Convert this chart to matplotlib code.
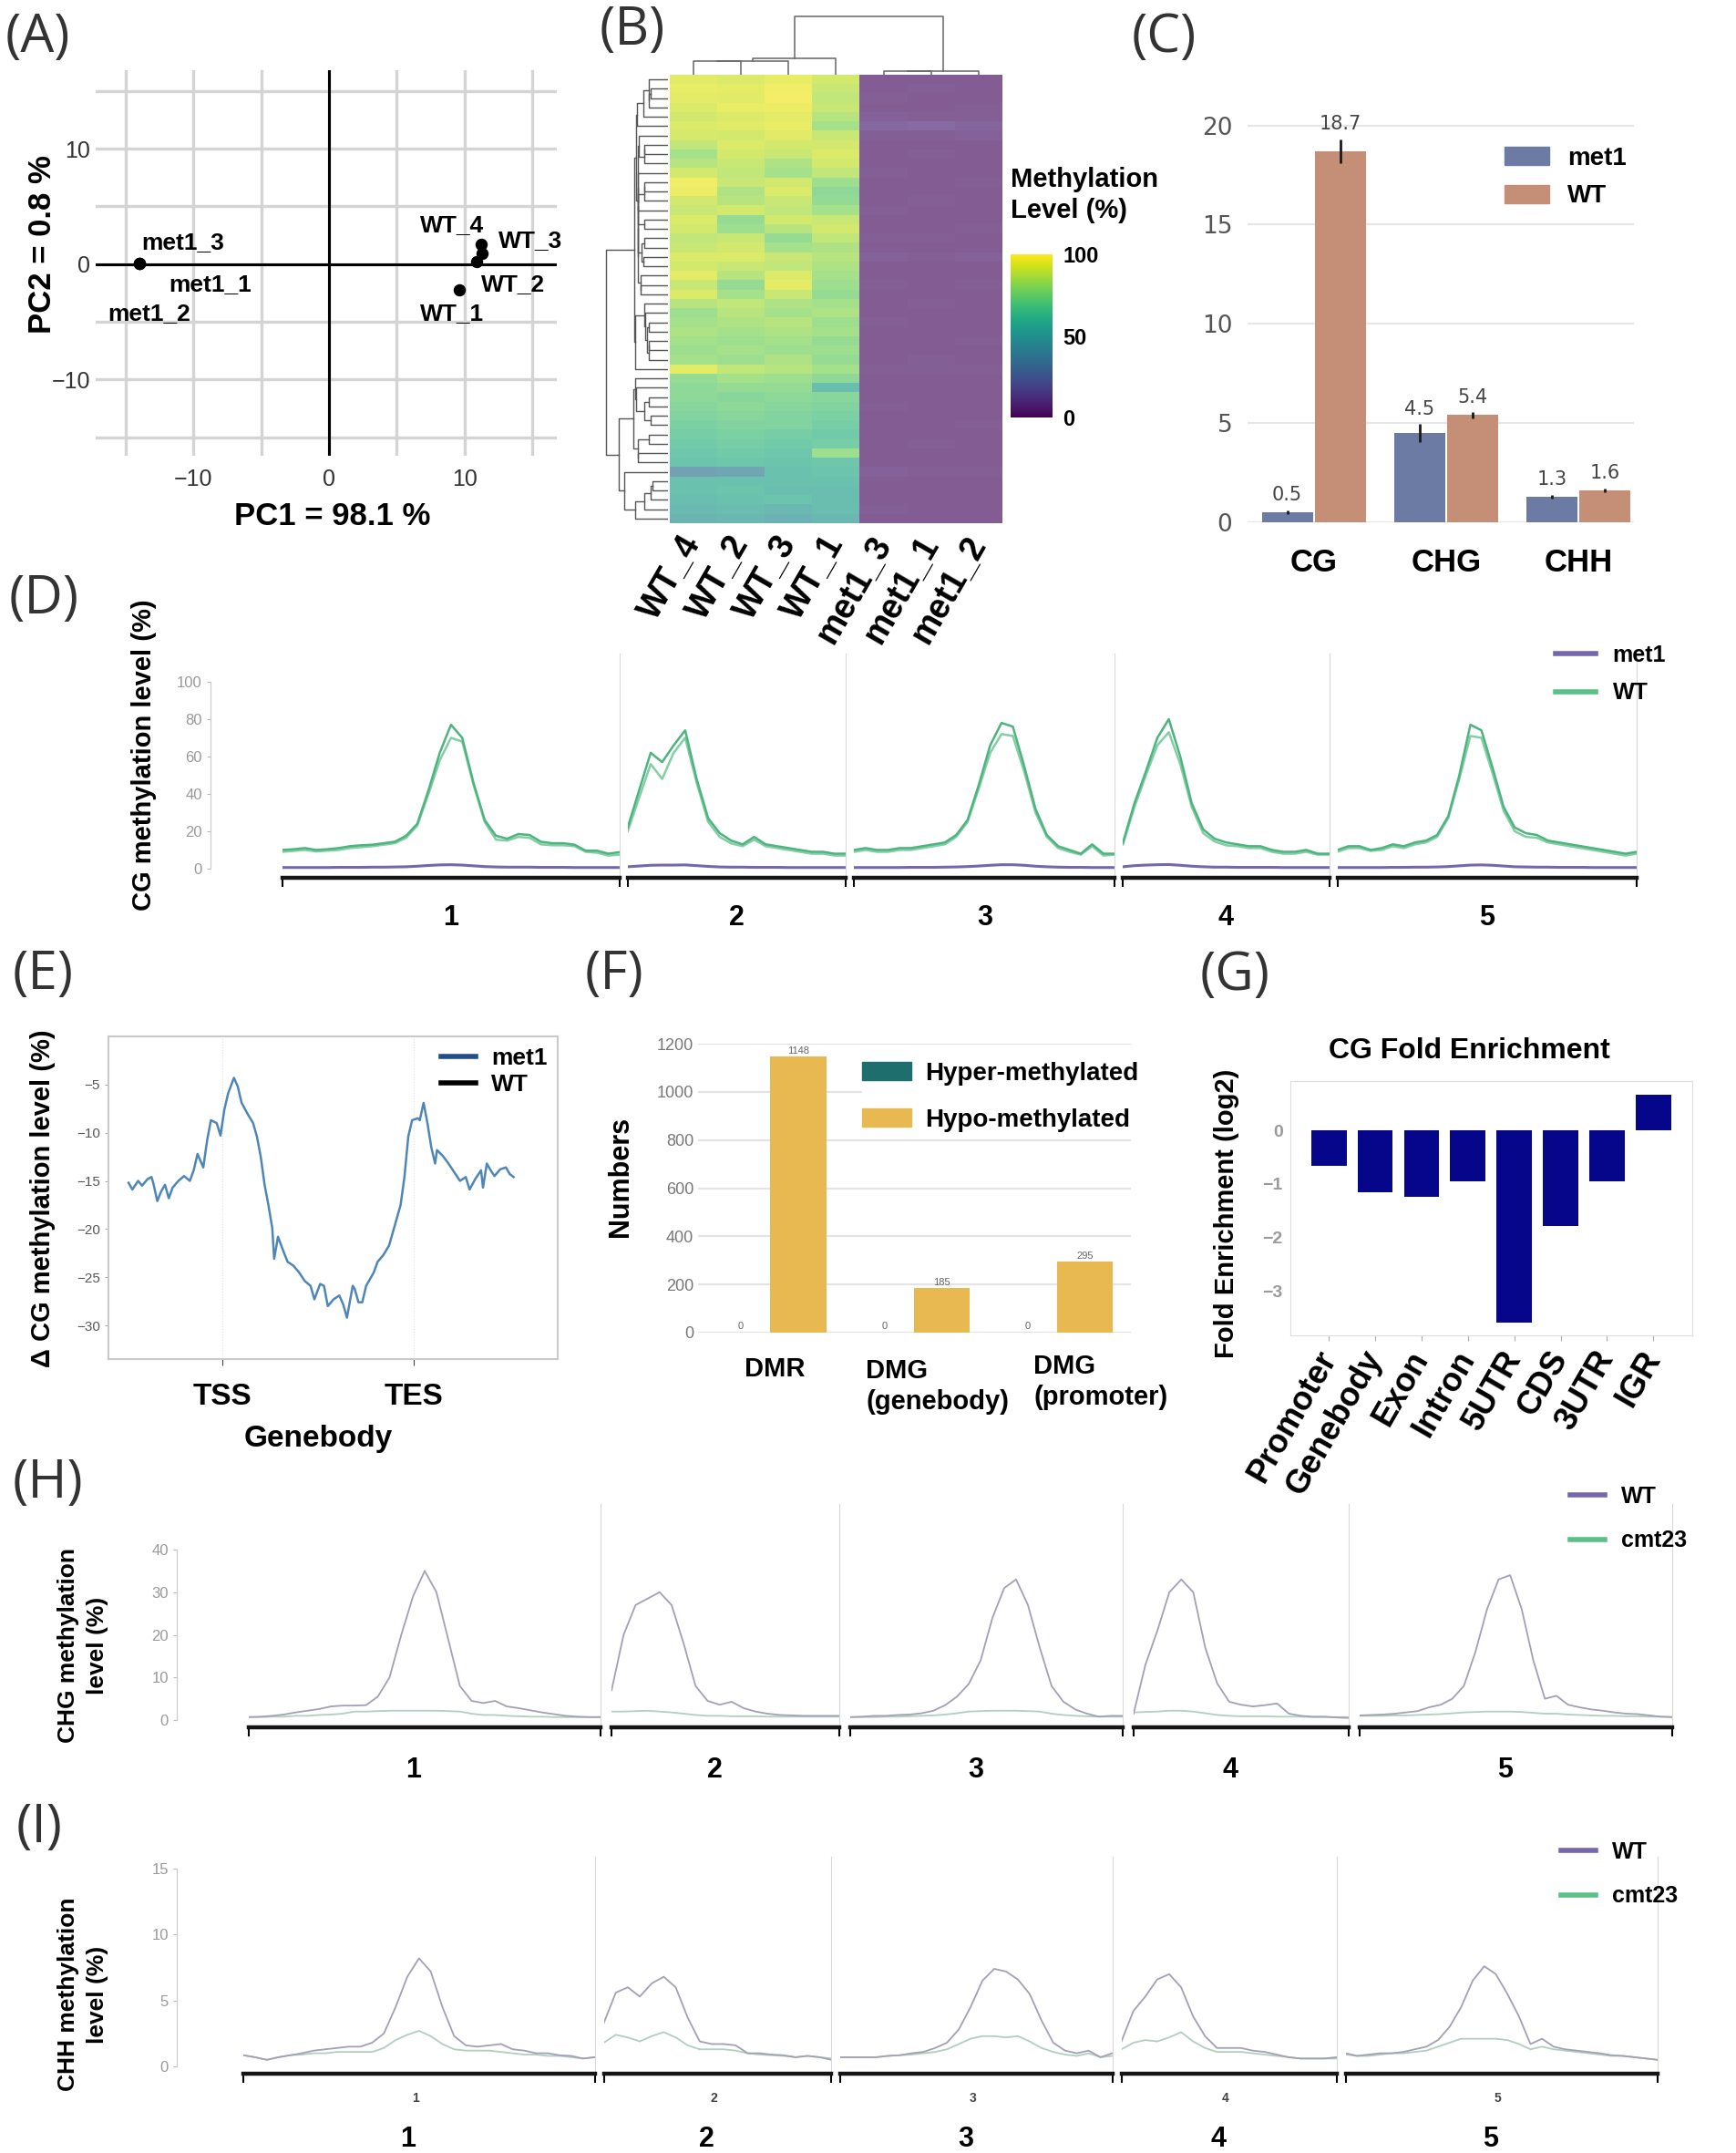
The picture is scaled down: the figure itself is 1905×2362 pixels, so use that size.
import numpy as np
import matplotlib
matplotlib.use("Agg")
import matplotlib.pyplot as plt
from matplotlib.lines import Line2D
from matplotlib.patches import Patch
from matplotlib.cm import ScalarMappable
from matplotlib.colors import Normalize

# ---------------- data ----------------
# (A) PCA
pca_samples = ["met1_1", "met1_2", "met1_3", "WT_1", "WT_2", "WT_3", "WT_4"]
pca_pc1 = [-14.0, -14.0, -14.0, 9.6, 10.9, 11.3, 11.2]
pca_pc2 = [0.1, 0.1, 0.1, -2.2, 0.25, 0.9, 1.7]

# (B) heatmap, rows = regions, columns as labelled
heat_cols = ["WT_4", "WT_2", "WT_3", "WT_1", "met1_3", "met1_1", "met1_2"]
heat_wt = [
    [93, 92, 95, 90], [95, 94, 97, 88], [94, 93, 98, 86], [92, 95, 96, 88],
    [90, 92, 94, 84], [92, 93, 95, 80], [91, 90, 93, 88], [86, 92, 90, 90],
    [80, 90, 88, 92], [84, 88, 82, 90], [90, 86, 80, 86], [97, 88, 90, 78],
    [96, 82, 92, 74], [90, 84, 88, 75], [88, 90, 86, 80], [92, 76, 90, 88],
    [90, 78, 84, 90], [86, 88, 76, 86], [88, 90, 80, 82], [92, 92, 88, 84],
    [90, 88, 86, 82], [94, 84, 92, 80], [88, 76, 94, 78], [92, 80, 88, 76],
    [84, 86, 82, 80], [78, 84, 80, 82], [80, 82, 84, 78], [82, 80, 82, 80],
    [80, 78, 80, 76], [78, 80, 78, 78], [80, 78, 82, 76], [94, 86, 84, 80],
    [76, 80, 78, 74], [74, 76, 76, 56], [74, 72, 74, 72], [72, 74, 72, 70],
    [70, 72, 70, 68], [68, 70, 70, 66], [66, 68, 66, 64], [64, 66, 64, 66],
    [62, 64, 62, 78], [60, 62, 60, 62], [38, 40, 58, 60], [58, 58, 58, 58],
    [58, 60, 56, 56], [56, 58, 60, 56], [54, 56, 52, 56], [50, 52, 48, 52],
]
heat_met1 = [
    [3, 3, 3], [3, 4, 3], [4, 3, 3], [3, 3, 4], [5, 4, 4], [8, 9, 7],
    [4, 4, 5], [3, 3, 3], [3, 4, 3], [3, 3, 3], [4, 3, 3], [3, 3, 4],
    [3, 3, 3], [3, 4, 3], [4, 3, 3], [3, 3, 3], [3, 3, 4], [4, 4, 3],
    [3, 3, 3], [5, 4, 5], [3, 3, 3], [3, 3, 3], [4, 3, 4], [3, 3, 3],
    [3, 4, 3], [3, 3, 3], [4, 3, 3], [3, 3, 3], [3, 3, 4], [3, 3, 3],
    [3, 4, 3], [4, 4, 4], [3, 3, 3], [3, 3, 3], [3, 3, 3], [4, 3, 3],
    [3, 3, 3], [3, 3, 4], [3, 3, 3], [3, 4, 3], [3, 3, 3], [3, 3, 3],
    [5, 4, 4], [3, 3, 3], [3, 3, 3], [3, 3, 3], [4, 3, 3], [3, 3, 3],
]

# (C) genome-wide methylation
contexts = ["CG", "CHG", "CHH"]
c_met1 = [0.5, 4.5, 1.3]
c_met1_err = [0.1, 0.45, 0.1]
c_wt = [18.7, 5.4, 1.6]
c_wt_err = [0.6, 0.15, 0.1]

# chromosomes (Mb)
chrom_names = ["1", "2", "3", "4", "5"]
chrom_len = [30.4, 19.7, 23.5, 18.6, 27.0]

# (D) CG methylation along chromosomes
d_wt_rep1 = [
    [10, 10.4, 11, 10, 10.4, 11, 12, 12.5, 12.8, 13.6, 14.4, 17.6, 24, 42, 62, 77, 70, 46, 26, 17.6, 16, 18.5, 18, 14.4, 13.6, 13.6, 12.8, 9.6, 9.6, 8, 8.8],
    [22, 42, 62, 57, 66, 74, 48, 27, 19, 15, 13, 17, 13, 12, 11, 10, 9, 9, 8, 8],
    [10, 11, 10, 10, 11, 11, 12, 13, 14, 18, 26, 45, 66, 78, 76, 55, 32, 18, 12, 10, 8, 13, 8, 8],
    [14, 35, 52, 70, 80, 60, 35, 21, 16, 14, 13, 12, 12, 10, 9, 9, 10, 8, 8],
    [10, 12, 12, 10, 11, 13, 12, 14, 15, 18, 28, 50, 77, 74, 54, 33, 22, 19, 18, 15, 14, 13, 12, 11, 10, 9, 8, 9],
]
d_wt_rep2 = [
    [9, 9.5, 10, 9.2, 9.6, 10, 11, 11.5, 12, 12.8, 13.6, 16.5, 23, 40, 58, 70, 68, 45, 25, 15.5, 15, 17, 16.5, 13, 12.5, 12.5, 12, 9, 8.5, 7, 7.5],
    [20, 38, 56, 48, 62, 70, 46, 25, 17, 13.5, 12, 15.5, 12, 11, 10, 9, 8, 8, 7, 7],
    [9, 10, 9, 9, 10, 10, 11, 12, 13, 17, 25, 43, 62, 72, 71, 52, 30, 17, 11, 9, 7.5, 12, 7, 7.5],
    [13, 33, 50, 66, 73, 56, 33, 19, 14.5, 12.5, 12, 11, 11, 9, 8, 8, 9, 7.5, 7.5],
    [9, 11, 11, 9.5, 10, 12, 11, 13, 14, 17, 27, 48, 71, 70, 51, 31, 20, 17, 16.5, 14, 13, 12, 11, 10, 9, 8, 7, 8],
]
d_met1 = [
    [0.6, 0.6, 0.6, 0.6, 0.6, 0.7, 0.7, 0.7, 0.8, 0.8, 0.9, 1.0, 1.3, 1.7, 2.0, 2.1, 1.9, 1.5, 1.1, 0.9, 0.8, 0.8, 0.8, 0.7, 0.7, 0.7, 0.6, 0.6, 0.6, 0.6, 0.6],
    [1.0, 1.4, 1.8, 1.9, 1.9, 2.0, 1.6, 1.2, 0.9, 0.8, 0.8, 0.7, 0.7, 0.7, 0.6, 0.6, 0.6, 0.6, 0.6, 0.6],
    [0.6, 0.6, 0.6, 0.6, 0.6, 0.7, 0.7, 0.7, 0.8, 0.9, 1.1, 1.4, 1.8, 2.1, 2.1, 1.8, 1.3, 1.0, 0.8, 0.7, 0.7, 0.6, 0.6, 0.6],
    [1.0, 1.6, 1.9, 2.1, 2.2, 1.8, 1.3, 1.0, 0.8, 0.8, 0.7, 0.7, 0.7, 0.7, 0.6, 0.6, 0.6, 0.6, 0.6],
    [0.6, 0.6, 0.6, 0.6, 0.6, 0.7, 0.7, 0.8, 0.8, 0.9, 1.1, 1.5, 1.9, 2.0, 1.8, 1.4, 1.0, 0.9, 0.8, 0.8, 0.7, 0.7, 0.7, 0.6, 0.6, 0.6, 0.6, 0.6],
]

# (E) delta CG methylation metagene (met1 - WT)
e_pos = [-0.49, -0.47, -0.44, -0.42, -0.39, -0.37, -0.36, -0.34, -0.32, -0.30, -0.28, -0.26,
         -0.23, -0.20, -0.17, -0.15, -0.13, -0.10, -0.08, -0.06, -0.03, -0.01, 0.01, 0.03,
         0.06, 0.08, 0.10, 0.13, 0.16, 0.18, 0.20, 0.22, 0.24, 0.26, 0.27, 0.29, 0.32, 0.34,
         0.37, 0.40, 0.43, 0.46, 0.48, 0.51, 0.53, 0.55, 0.58, 0.61, 0.63, 0.65, 0.68, 0.69,
         0.71, 0.73, 0.75, 0.77, 0.79, 0.81, 0.84, 0.87, 0.90, 0.93, 0.95, 0.97, 0.99, 1.02,
         1.03, 1.05, 1.07, 1.09, 1.11, 1.12, 1.15, 1.18, 1.21, 1.24, 1.27, 1.29, 1.32, 1.35,
         1.36, 1.38, 1.40, 1.42, 1.45, 1.48, 1.50, 1.52]
e_delta = [-15.2, -15.9, -15.0, -15.5, -14.8, -14.6, -15.3, -17.1, -16.1, -15.4, -16.8, -15.7,
           -15.0, -14.5, -15.0, -13.9, -12.2, -13.6, -10.8, -8.7, -9.0, -10.3, -7.6, -5.9,
           -4.3, -5.2, -6.9, -8.0, -9.0, -10.4, -12.5, -15.4, -17.5, -19.9, -23.1, -20.8, -22.4, -23.4,
           -23.8, -24.5, -25.4, -25.9, -27.3, -25.7, -25.9, -28.0, -27.3, -26.9, -27.8, -29.2, -25.9, -26.2,
           -27.6, -27.6, -25.9, -25.2, -24.5, -23.4, -22.7, -21.7, -19.6, -17.5, -14.6, -10.4, -8.7, -8.5,
           -8.7, -6.9, -9.0, -11.5, -13.2, -11.8, -12.4, -13.2, -14.1, -15.0, -14.6, -15.9, -14.8, -13.9,
           -15.7, -13.2, -13.9, -14.5, -13.8, -13.6, -14.3, -14.6]

# (F) DMR / DMG counts
f_groups = ["DMR", "DMG\n(genebody)", "DMG\n(promoter)"]
f_hyper = [0, 0, 0]
f_hypo = [1148, 185, 295]

# (G) CG fold enrichment
g_regions = ["Promoter", "Genebody", "Exon", "Intron", "5UTR", "CDS", "3UTR", "IGR"]
g_fold = [-0.66, -1.15, -1.24, -0.96, -3.6, -1.78, -0.96, 0.66]

# (H) CHG methylation along chromosomes
h_wt = [
    [0.7, 0.8, 1.0, 1.3, 1.8, 2.2, 2.6, 3.2, 3.4, 3.4, 3.5, 5.5, 10, 20, 29, 35, 30, 19, 8, 4.5, 4.0, 4.5, 3.2, 2.8, 2.3, 1.8, 1.4, 1.0, 0.8, 0.7, 0.7],
    [7, 20, 27, 28.5, 30, 27, 18, 8, 4.5, 3.6, 4.3, 2.8, 2.0, 1.5, 1.2, 1.1, 1.0, 1.0, 1.0, 1.0],
    [0.7, 0.8, 1.0, 1.0, 1.2, 1.3, 1.6, 2.2, 3.5, 5.5, 8.5, 14, 24, 31, 33, 27, 17, 8, 4.3, 2.5, 1.5, 0.8, 1.0, 1.0],
    [1.4, 13, 21, 30, 33, 30, 17, 8.6, 4.3, 3.6, 3.2, 3.5, 3.9, 1.5, 1.0, 0.8, 0.8, 0.6, 0.5],
    [1.1, 1.2, 1.3, 1.5, 1.8, 2.1, 3.0, 3.6, 5.0, 8.0, 16, 26, 33, 34, 26, 14, 5, 5.7, 3.6, 3.0, 2.5, 2.2, 1.8, 1.5, 1.4, 1.1, 0.8, 0.7],
]
h_cmt23 = [
    [0.7, 0.7, 0.8, 0.8, 1.0, 1.0, 1.2, 1.3, 1.5, 2.0, 2.0, 2.1, 2.2, 2.2, 2.2, 2.2, 2.2, 2.1, 2.0, 1.5, 1.2, 1.2, 1.0, 0.9, 0.8, 0.8, 0.7, 0.7, 0.7, 0.7, 0.7],
    [2.0, 2.0, 2.1, 2.2, 2.0, 1.8, 1.5, 1.2, 1.0, 1.0, 0.9, 0.9, 0.9, 0.8, 0.8, 0.8, 0.8, 0.8, 0.8, 0.8],
    [0.7, 0.7, 0.7, 0.8, 0.8, 0.9, 1.0, 1.1, 1.3, 1.6, 2.0, 2.1, 2.2, 2.2, 2.2, 2.1, 2.0, 1.5, 1.2, 1.0, 0.9, 0.8, 0.8, 0.8],
    [1.8, 1.9, 2.0, 2.2, 2.2, 2.0, 1.6, 1.2, 1.0, 0.9, 0.9, 0.9, 0.8, 0.8, 0.8, 0.7, 0.7, 0.7, 0.7],
    [1.0, 1.0, 1.0, 1.1, 1.1, 1.2, 1.3, 1.4, 1.6, 1.8, 1.9, 2.0, 2.0, 2.0, 1.9, 1.7, 1.5, 1.5, 1.3, 1.2, 1.1, 1.0, 1.0, 0.9, 0.9, 0.8, 0.8, 0.7],
]

# (I) CHH methylation along chromosomes
i_wt = [
    [0.85, 0.7, 0.5, 0.7, 0.85, 1.0, 1.2, 1.3, 1.4, 1.5, 1.5, 1.8, 2.5, 4.5, 6.8, 8.2, 7.2, 4.5, 2.3, 1.6, 1.5, 1.6, 1.7, 1.3, 1.2, 1.0, 1.0, 0.85, 0.8, 0.6, 0.7],
    [3.3, 5.6, 6.0, 5.3, 6.3, 6.8, 6.0, 3.7, 1.9, 1.7, 1.7, 1.6, 1.0, 1.0, 0.9, 0.85, 0.7, 0.8, 0.7, 0.5],
    [0.7, 0.7, 0.7, 0.7, 0.8, 0.85, 1.0, 1.1, 1.4, 1.8, 2.8, 4.5, 6.5, 7.4, 7.2, 6.6, 5.5, 3.5, 1.8, 1.2, 1.0, 1.2, 0.7, 1.0],
    [1.9, 4.2, 5.3, 6.6, 7.0, 6.0, 3.8, 2.3, 1.4, 1.4, 1.4, 1.2, 1.1, 0.9, 0.7, 0.6, 0.6, 0.6, 0.7],
    [1.0, 0.8, 0.9, 1.0, 1.0, 1.1, 1.3, 1.5, 2.0, 3.0, 4.5, 6.5, 7.6, 7.0, 5.5, 3.8, 1.7, 2.1, 1.5, 1.3, 1.2, 1.1, 1.0, 0.85, 0.8, 0.7, 0.6, 0.5],
]
i_cmt23 = [
    [0.85, 0.7, 0.5, 0.7, 0.85, 0.9, 1.0, 1.0, 1.1, 1.1, 1.1, 1.1, 1.4, 2.0, 2.4, 2.7, 2.3, 1.7, 1.3, 1.2, 1.2, 1.2, 1.1, 1.0, 0.9, 0.9, 0.8, 0.8, 0.7, 0.6, 0.7],
    [1.8, 2.4, 2.2, 1.9, 2.3, 2.6, 2.2, 1.6, 1.3, 1.3, 1.3, 1.2, 1.0, 0.9, 0.85, 0.8, 0.7, 0.8, 0.7, 0.6],
    [0.7, 0.7, 0.7, 0.7, 0.8, 0.85, 0.9, 1.0, 1.1, 1.3, 1.7, 2.1, 2.3, 2.3, 2.2, 2.3, 1.9, 1.4, 1.1, 0.9, 0.8, 1.0, 0.7, 0.8],
    [1.3, 1.8, 2.0, 1.9, 2.2, 2.6, 1.9, 1.4, 1.1, 1.1, 1.1, 1.0, 0.9, 0.8, 0.7, 0.6, 0.6, 0.6, 0.6],
    [0.9, 0.8, 0.8, 0.9, 1.0, 1.0, 1.1, 1.2, 1.5, 1.8, 2.1, 2.1, 2.1, 2.1, 2.0, 1.7, 1.3, 1.5, 1.3, 1.2, 1.1, 1.0, 0.9, 0.8, 0.8, 0.7, 0.6, 0.5],
]

# ---------------- layout helpers ----------------
W, H = 1905, 2362
plt.rcParams["font.family"] = ["Liberation Sans", "DejaVu Sans"]
fig = plt.figure(figsize=(W / 100, H / 100), dpi=100)

BOLD = dict(weight="bold", color="black")
PURPLE = "#7566ad"
GREEN = "#5cbf87"


def px_axes(x0, y0, x1, y1):
    return fig.add_axes([x0 / W, 1 - y1 / H, (x1 - x0) / W, (y1 - y0) / H])


def px_text(x, y, s, **kw):
    return fig.text(x / W, 1 - y / H, s, **kw)


def panel_label(x, y, s):
    px_text(x, y, s, family=["Open Sans", "DejaVu Sans"], fontsize=42,
            color="#333333", ha="left", va="top")


def px_legend(ax, handles, labels, x, y_first, spacing, fs, hl=1.6, htp=0.7, **kw):
    fpx = fs * 100 / 72
    ls = max(spacing - 0.95 * fpx, 0) / fpx
    opts = dict(frameon=False)
    opts.update(kw)
    return ax.legend(handles, labels, loc="upper left",
                     bbox_to_anchor=(x / W, 1 - (y_first - 0.4 * fpx) / H),
                     bbox_transform=fig.transFigure, borderpad=0, borderaxespad=0,
                     labelspacing=ls, handlelength=hl, handletextpad=htp,
                     prop=dict(weight="bold", size=fs), **opts)


def adjacent_linkage(X):
    # order-preserving agglomerative clustering (merge closest neighbours)
    X = np.asarray(X, float)
    nodes = [(float(i), 0.0, X[i], 1) for i in range(len(X))]
    links = []
    while len(nodes) > 1:
        d = [np.abs(nodes[i][2] - nodes[i + 1][2]).mean() for i in range(len(nodes) - 1)]
        i = int(np.argmin(d))
        (pa, ha, ma, na), (pb, hb, mb, nb) = nodes[i], nodes[i + 1]
        h = max(d[i], ha, hb)
        links.append((pa, ha, pb, hb, h))
        nodes[i:i + 2] = [((pa + pb) / 2, h, (ma * na + mb * nb) / (na + nb), na + nb)]
    return links


def chrom_row(x0, x1, y0, y1, gap, ylim, series, yticks, spine_x):
    scale = (x1 - x0 - gap * (len(chrom_len) - 1)) / sum(chrom_len)
    centers, axes = [], []
    left = x0
    for k, L in enumerate(chrom_len):
        w = L * scale
        ax = px_axes(left, y0, left + w, y1)
        ax.patch.set_alpha(0)
        for vals, color, lw in series:
            v = vals[k]
            ax.plot(np.linspace(0, L, len(v)), v, color=color, lw=lw)
        ax.set_xlim(0, L)
        ax.set_ylim(*ylim)
        ax.spines["top"].set_visible(False)
        ax.spines["right"].set_color("#d8d8d8")
        ax.spines["right"].set_linewidth(0.8)
        ax.spines["bottom"].set_linewidth(3.2)
        ax.spines["bottom"].set_color("#151515")
        ax.set_xticks([0, L])
        ax.tick_params(axis="x", direction="out", length=7, width=1.5, labelbottom=False)
        if k == 0:
            ax.spines["left"].set_position(("outward", (left - spine_x) * 0.72))
            ax.spines["left"].set_bounds(yticks[0], yticks[-1])
            ax.spines["left"].set_color("#c8c8c8")
            ax.set_yticks(yticks)
            ax.set_yticklabels([str(t) for t in yticks])
            ax.tick_params(axis="y", length=3, color="#bbbbbb", labelsize=12, labelcolor="#999999")
        else:
            ax.spines["left"].set_visible(False)
            ax.tick_params(axis="y", left=False, labelleft=False)
        centers.append(left + w / 2)
        axes.append(ax)
        left += w + gap
    return centers, axes


# ---------------- (A) PCA ----------------
ax = px_axes(105, 77, 611, 500)
ax.set_xlim(-17.2, 16.8)
ax.set_ylim(-16.6, 16.8)
ax.set_xticks([-10, 0, 10])
ax.set_yticks([-10, 0, 10])
ax.set_xticks([-15, -5, 5, 15], minor=True)
ax.set_yticks([-15, -5, 5, 15], minor=True)
ax.grid(True, which="both", color="#d4d4d4", lw=2.4)
ax.set_axisbelow(True)
for s in ax.spines.values():
    s.set_visible(False)
ax.tick_params(which="both", length=0, labelsize=18, labelcolor="#333333")
ax.tick_params(axis="x", pad=10)
ax.tick_params(axis="y", pad=4)
ax.axhline(0, color="black", lw=2.2, zorder=2)
ax.axvline(0, color="black", lw=2.2, zorder=2)
ax.scatter(pca_pc1, pca_pc2, s=75, color="black", zorder=3)
pca_label_xy = {"met1_3": (-13.8, 1.9), "met1_1": (-11.8, -1.75), "met1_2": (-16.3, -4.3),
                "WT_4": (6.7, 3.4), "WT_3": (12.5, 2.0), "WT_2": (11.2, -1.75), "WT_1": (6.7, -4.3)}
for name in pca_samples:
    lx, ly = pca_label_xy[name]
    ax.text(lx, ly, name, fontsize=19, ha="left", va="center", **BOLD)
px_text(365, 566, "PC1 = 98.1 %", fontsize=25, ha="center", va="center", **BOLD)
px_text(47, 268, "PC2 = 0.8 %", fontsize=25, ha="center", va="center", rotation=90, **BOLD)
panel_label(6, 12, "(A)")

# ---------------- (B) heatmap ----------------
heat = np.hstack([np.array(heat_wt, float), np.array(heat_met1, float)])
nrow, ncol = heat.shape
ax_h = px_axes(735, 82, 1100, 574)
ax_h.imshow(heat, aspect="auto", cmap="viridis", vmin=0, vmax=100, alpha=0.67,
            interpolation="nearest")
for s in ax_h.spines.values():
    s.set_visible(False)
ax_h.set_yticks([])
ax_h.set_xticks(range(ncol))
ax_h.set_xticklabels(heat_cols, rotation=60, ha="right", va="center",
                     rotation_mode="anchor", fontsize=27, fontweight="bold")
ax_h.tick_params(axis="x", length=0, pad=12)

# column dendrogram
ax_cd = px_axes(735, 15, 1100, 82)
for pa, ha, pb, hb, h in adjacent_linkage(heat.T):
    ax_cd.plot([pa, pa, pb, pb], np.sqrt([ha, h, h, hb]), color="#666666", lw=1.1)
ax_cd.set_xlim(-0.5, ncol - 0.5)
ax_cd.set_ylim(0, None)
ax_cd.axis("off")

# row dendrogram
ax_rd = px_axes(662, 82, 733, 574)
for pa, ha, pb, hb, h in adjacent_linkage(heat):
    ax_rd.plot(np.sqrt([ha, h, h, hb]), [pa, pa, pb, pb], color="#555555", lw=1.0)
ax_rd.set_ylim(nrow - 0.5, -0.5)
ax_rd.invert_xaxis()
ax_rd.set_xlim(left=None, right=0)
ax_rd.axis("off")

# colour bar
cax = px_axes(1109, 279, 1155, 458)
cb = fig.colorbar(ScalarMappable(norm=Normalize(0, 100), cmap="viridis"), cax=cax)
cb.outline.set_visible(False)
cb.set_ticks([0, 50, 100])
cb.ax.tick_params(length=0, pad=8)
for t in cb.ax.get_yticklabels():
    t.set_fontsize(17)
    t.set_fontweight("bold")
px_text(1109, 214, "Methylation\nLevel (%)", fontsize=21, ha="left", va="center",
        linespacing=1.25, **BOLD)
panel_label(658, 4, "(B)")

# ---------------- (C) bars ----------------
ax = px_axes(1369, 131, 1793, 573)
x = np.arange(len(contexts))
bw = 0.385
col_met1, col_wt = "#6b7ba3", "#c48e77"
ax.bar(x - 0.2, c_met1, width=bw, color=col_met1, zorder=2)
ax.bar(x + 0.2, c_wt, width=bw, color=col_wt, zorder=2)
ax.errorbar(x - 0.2, c_met1, yerr=c_met1_err, fmt="none", ecolor="#1a1a1a", elinewidth=2, zorder=3)
ax.errorbar(x + 0.2, c_wt, yerr=c_wt_err, fmt="none", ecolor="#1a1a1a", elinewidth=2, zorder=3)
for xs, vals, errs in ((x - 0.2, c_met1, c_met1_err), (x + 0.2, c_wt, c_wt_err)):
    for xi, v, e in zip(xs, vals, errs):
        ax.text(xi, v + e + 0.3, f"{v:.1f}", ha="center", va="bottom",
                family="DejaVu Sans", fontsize=15, color="#444444")
ax.set_xlim(-0.5, 2.42)
ax.set_ylim(0, 20.3)
ax.set_yticks([0, 5, 10, 15, 20])
ax.yaxis.grid(True, color="#e6e6e6", lw=1.5)
ax.set_axisbelow(True)
for s in ax.spines.values():
    s.set_visible(False)
ax.set_xticks(x)
ax.set_xticklabels(contexts, fontsize=25, fontweight="bold")
ax.tick_params(axis="x", length=0, pad=20)
ax.tick_params(axis="y", length=0, pad=12, labelsize=19, labelcolor="#555555")
for t in ax.get_yticklabels():
    t.set_family("DejaVu Sans")
px_legend(ax, [Patch(color=col_met1), Patch(color=col_wt)], ["met1", "WT"],
          1651, 172, 42, 20, hl=1.75, htp=0.75)
panel_label(1242, 12, "(C)")

# ---------------- (D) CG along chromosomes ----------------
centers, d_axes = chrom_row(310, 1796, 717, 963, 9, (-4.9, 115.1),
                            [(d_wt_rep2, "#82cfa3", 1.8), (d_wt_rep1, "#4fb37f", 1.8),
                             (d_met1, PURPLE, 2.2)],
                            [0, 20, 40, 60, 80, 100], 231)
for cx, name in zip(centers, chrom_names):
    px_text(cx, 1007, name, fontsize=22, ha="center", va="center", **BOLD)
px_text(158, 828, "CG methylation level (%)", fontsize=21, rotation=90,
        ha="center", va="center", **BOLD)
px_legend(d_axes[-1], [Line2D([], [], color=PURPLE, lw=4), Line2D([], [], color=GREEN, lw=4)],
          ["met1", "WT"], 1707, 717, 41, 18, hl=1.75, htp=0.75)
panel_label(10, 628, "(D)")

# ---------------- (E) metagene delta ----------------
ax = px_axes(119, 1137, 612, 1491)
ax.plot(e_pos, e_delta, color="#4f86b8", lw=1.8)
ax.set_xlim(-0.595, 1.75)
ax.set_ylim(-33.5, 0)
ax.set_yticks([-30, -25, -20, -15, -10, -5])
ax.set_xticks([0, 1])
ax.set_xticklabels(["TSS", "TES"], fontsize=24, fontweight="bold")
ax.tick_params(axis="x", length=5, color="#444444", pad=14)
ax.tick_params(axis="y", length=3, color="#aaaaaa", labelsize=11, labelcolor="#555555")
for v in (0, 1):
    ax.axvline(v, color="#e2e2e2", lw=0.8, ls=":", zorder=0)
for s in ax.spines.values():
    s.set_color("#c9c9c9")
    s.set_linewidth(1.5)
px_legend(ax, [Line2D([], [], color="#1f4e8a", lw=4), Line2D([], [], color="black", lw=4)],
          ["met1", "WT"], 484, 1160, 30, 19, hl=1.45, htp=0.65)
px_text(349, 1578, "Genebody", fontsize=24, ha="center", va="center", **BOLD)
px_text(47, 1315, "\u0394 CG methylation level (%)", fontsize=21, rotation=90,
        ha="center", va="center", **BOLD)
panel_label(14, 1040, "(E)")

# ---------------- (F) DMR / DMG ----------------
ax = px_axes(766, 1145, 1241, 1462)
xf = np.arange(len(f_groups))
col_hyper, col_hypo = "#1d6e6c", "#e8b851"
ax.bar(xf - 0.2, f_hyper, width=0.39, color=col_hyper, zorder=2)
ax.bar(xf + 0.2, f_hypo, width=0.39, color=col_hypo, zorder=2)
for xi, v in zip(xf - 0.2, f_hyper):
    ax.text(xi, v + 8, str(v), ha="center", va="bottom", fontsize=8, color="#666666")
for xi, v in zip(xf + 0.2, f_hypo):
    ax.text(xi, v + 4, str(v), ha="center", va="bottom", fontsize=8, color="#666666")
ax.set_xlim(-0.5, 2.52)
ax.set_ylim(0, 1200)
ax.set_yticks(range(0, 1201, 200))
ax.yaxis.grid(True, color="#e3e3e3", lw=1.5)
ax.set_axisbelow(True)
for s in ax.spines.values():
    s.set_visible(False)
ax.set_xticks([])
ax.tick_params(axis="y", length=0, labelsize=13, labelcolor="#777777")
px_legend(ax, [Patch(color=col_hyper), Patch(color=col_hypo)],
          ["Hyper-methylated", "Hypo-methylated"], 946, 1176, 51, 20,
          hl=1.95, htp=0.55, frameon=True, facecolor="white", edgecolor="white", framealpha=1)
px_text(850, 1502, f_groups[0], fontsize=21, ha="center", va="center", **BOLD)
px_text(950, 1521, f_groups[1], fontsize=21, ha="left", va="center", linespacing=1.3, **BOLD)
px_text(1134, 1516, f_groups[2], fontsize=21, ha="left", va="center", linespacing=1.3, **BOLD)
px_text(681, 1291, "Numbers", fontsize=22, rotation=90, ha="center", va="center", **BOLD)
panel_label(642, 1040, "(F)")

# ---------------- (G) fold enrichment ----------------
ax = px_axes(1416, 1186, 1857, 1465)
xg = np.arange(len(g_regions))
ax.bar(xg, g_fold, width=0.76, color="#06068a", zorder=2)
ax.set_xlim(-0.83, 7.84)
ax.set_ylim(-3.83, 0.92)
ax.set_yticks([-3, -2, -1, 0])
ax.set_yticklabels(["\u22123", "\u22122", "\u22121", "0"])
ax.tick_params(axis="y", length=0, labelsize=14, labelcolor="#9a9a9a", pad=6)
for t in ax.get_yticklabels():
    t.set_fontweight("bold")
ax.set_xticks(xg)
ax.set_xticklabels(g_regions, rotation=60, ha="right", va="center", rotation_mode="anchor",
                   fontsize=26, fontweight="bold")
ax.tick_params(axis="x", length=4, color="#aaaaaa", pad=10)
for s in ax.spines.values():
    s.set_color("#dddddd")
px_text(1612, 1153, "CG Fold Enrichment", fontsize=23, ha="center", va="center", **BOLD)
px_text(1346, 1331, "Fold Enrichment (log2)", fontsize=21, rotation=90,
        ha="center", va="center", **BOLD)
panel_label(1317, 1042, "(G)")

# ---------------- (H) CHG along chromosomes ----------------
centers, h_axes = chrom_row(273, 1835, 1650, 1895, 12, (-1.7, 50.7),
                            [(h_cmt23, "#b3cdbf", 1.3), (h_wt, "#a3a0b6", 1.3)],
                            [0, 10, 20, 30, 40], 194)
for cx, name in zip(centers, chrom_names):
    px_text(cx - 12, 1942, name, fontsize=22, ha="center", va="center", **BOLD)
px_text(91, 1805, "CHG methylation\nlevel (%)", fontsize=19, rotation=90,
        ha="center", va="center", linespacing=1.4, **BOLD)
px_legend(h_axes[-1], [Line2D([], [], color=PURPLE, lw=4), Line2D([], [], color=GREEN, lw=4)],
          ["WT", "cmt23"], 1723, 1640, 48, 18, hl=1.5, htp=0.75)
panel_label(14, 1598, "(H)")

# ---------------- (I) CHH along chromosomes ----------------
centers, i_axes = chrom_row(267, 1819, 2037, 2275, 10, (-0.55, 15.9),
                            [(i_cmt23, "#b3cdbf", 1.3), (i_wt, "#a3a0b6", 1.3)],
                            [0, 5, 10, 15], 194)
for cx, name in zip(centers, chrom_names):
    px_text(cx - 4, 2302, name, fontsize=10, ha="center", va="center", weight="bold", color="#444444")
    px_text(cx - 12, 2347, name, fontsize=22, ha="center", va="center", **BOLD)
px_text(91, 2188, "CHH methylation\nlevel (%)", fontsize=19, rotation=90,
        ha="center", va="center", linespacing=1.4, **BOLD)
px_legend(i_axes[-1], [Line2D([], [], color=PURPLE, lw=4), Line2D([], [], color=GREEN, lw=4)],
          ["WT", "cmt23"], 1713, 2030, 48, 18, hl=1.5, htp=0.75)
panel_label(18, 1976, "(I)")

fig.savefig("out.png", dpi=100)
